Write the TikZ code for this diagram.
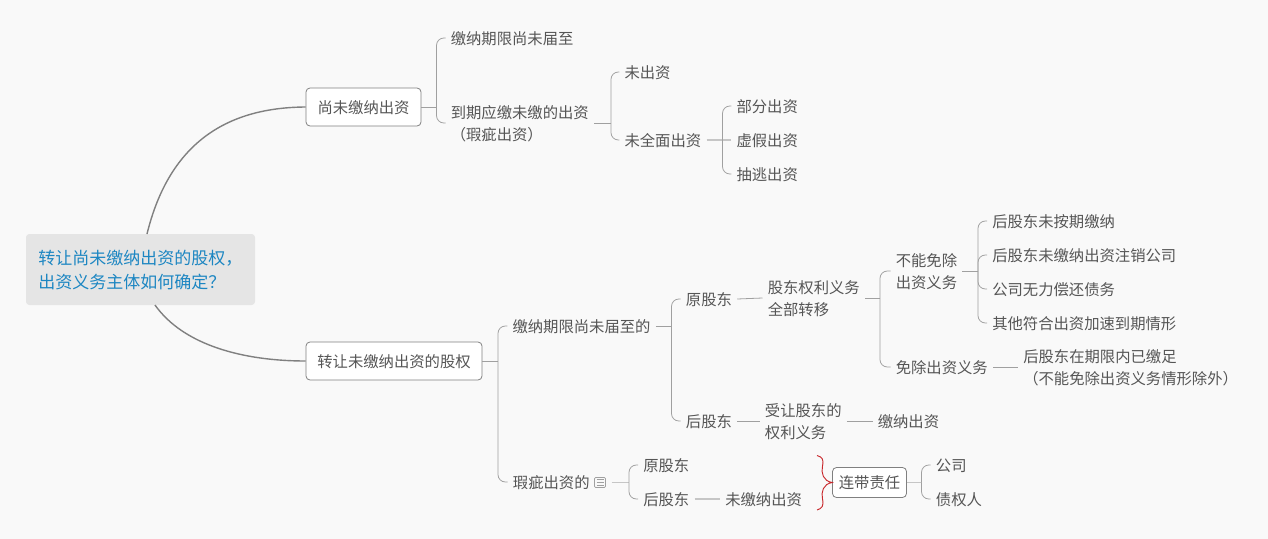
\documentclass[tikz,border=0pt]{standalone}
\usepackage{fontspec}
\setmainfont{Noto Sans CJK SC}
\definecolor{pagebg}{HTML}{F9F9F9}
\definecolor{txtc}{HTML}{555555}
\definecolor{rootc}{HTML}{1C86C2}
\definecolor{rootbg}{HTML}{E5E5E5}
\definecolor{edgec}{HTML}{808080}
\definecolor{linec}{HTML}{A0A0A0}
\definecolor{lightc}{HTML}{C6C6C6}
\definecolor{bracec}{HTML}{C8282C}
\newcommand\firstline{\rule{0pt}{10.1pt}}
\tikzset{
  x=0.75pt, y=-0.75pt,
  txt/.style={anchor=west, inner xsep=3.75pt, inner ysep=0pt, text=txtc, align=left,
    font=\fontsize{11.5pt}{16.5pt}\selectfont,
    execute at begin node={\firstline}},
  boxed/.style={anchor=center, draw=edgec, line width=0.6pt, fill=white, rounded corners=3pt,
    text=txtc, inner sep=0pt, font=\fontsize{11.5pt}{16.5pt}\selectfont,
    execute at begin node={\firstline}},
  rootnode/.style={anchor=center, fill=rootbg, rounded corners=2.5pt, text=rootc, align=left,
    inner sep=0pt, font=\fontsize{12.75pt}{18pt}\selectfont,
    execute at begin node={\rule{0pt}{11.2pt}}},
  maincurve/.style={draw=edgec, line width=1.05pt},
  conn/.style={draw=linec, line width=0.6pt},
  connlight/.style={draw=lightc, line width=0.9pt},
  bracecurve/.style={draw=bracec, line width=0.7pt},
  noteicon/.style={draw=linec, line width=0.5pt, fill=pagebg, rounded corners=0.8pt, inner sep=0pt,
    minimum width=8.25pt, minimum height=7.5pt, outer xsep=4.5pt}
}
% stub from parent to spine, branch from spine to child
\newcommand\stub[3][conn]{\draw[#1] (#2.east) -- (#2.east -| #3);}
\newcommand\twig[4][conn]{\draw[#1, rounded corners=5.5pt] (#2.east -| #3) |- (#4.west);}
\newcommand\link[3][conn]{\draw[#1] (#2.east) -- (#3.west);}
\begin{document}
\begin{tikzpicture}
\useasboundingbox[fill=pagebg] (0,0) rectangle (1268,539);

% root and first level
\node[rootnode, minimum width=171.75pt, minimum height=53.25pt, text width=153pt] (root) at (140.5,269.5)
  {转让尚未缴纳出资的股权，\\出资义务主体如何确定？};
\node[boxed, minimum width=86.25pt, minimum height=28.5pt] (n1) at (363.5,107) {尚未缴纳出资};
\node[boxed, minimum width=132pt, minimum height=28.5pt] (n2) at (394,361) {转让未缴纳出资的股权};
\draw[maincurve] (147,234) .. controls (170,140) and (230,107.5) .. (n1.west);
\draw[maincurve] (155,305) .. controls (184,346) and (245,361) .. (n2.west);

% upper branch
\node[txt] (a1) at (445.5,38) {缴纳期限尚未届至};
\node[txt] (a2) at (445.5,123) {\rule{0pt}{10.9pt}到期应缴未缴的出资\\（瑕疵出资）};
\node[txt] (b1) at (619.3,72) {未出资};
\node[txt] (b2) at (619.3,140) {未全面出资};
\node[txt] (c1) at (731.3,106) {部分出资};
\node[txt] (c2) at (731.3,140) {虚假出资};
\node[txt] (c3) at (731.3,174) {抽逃出资};
\coordinate (s1) at (436.5,0);
\coordinate (s2) at (611,0);
\coordinate (s3) at (722.5,0);
\stub{n1}{s1}
\twig{n1}{s1}{a1}
\twig{n1}{s1}{a2}
\stub{a2}{s2}
\twig{a2}{s2}{b1}
\twig{a2}{s2}{b2}
\stub[connlight]{b2}{s3}
\twig{b2}{s3}{c1}
\twig{b2}{s3}{c3}
\draw[connlight] (b2.east -| s3) -- (c2.west);

% lower branch
\node[txt] (d1) at (507.3,326) {缴纳期限尚未届至的};
\node[txt] (d2) at (507.7,482) {瑕疵出资的};
\node[noteicon] (note) at (600,482.5) {};
\draw[linec, line width=0.5pt] (596.5,479.5) -- (603.5,479.5) (596.5,482.5) -- (603.5,482.5) (596.5,485.5) -- (603.5,485.5);
\coordinate (s4) at (498,0);
\stub{n2}{s4}
\twig{n2}{s4}{d1}
\twig{n2}{s4}{d2}

\node[txt] (e1) at (680.7,299) {原股东};
\node[txt] (e2) at (680.7,421) {后股东};
\coordinate (s5) at (671.5,0);
\stub{d1}{s5}
\twig{d1}{s5}{e1}
\twig{d1}{s5}{e2}

\node[txt] (f1) at (762.5,298) {\firstline 股东权利义务\\全部转移};
\node[txt] (f2) at (759.7,421) {\firstline 受让股东的\\权利义务};
\node[txt] (f3) at (872.5,421) {缴纳出资};
\link{e1}{f1}
\link{e2}{f2}
\link{f2}{f3}

\node[txt] (g1) at (890.5,271) {\firstline 不能免除\\出资义务};
\node[txt] (g2) at (890.5,367) {免除出资义务};
\coordinate (s6) at (880,0);
\stub{f1}{s6}
\twig{f1}{s6}{g1}
\twig{f1}{s6}{g2}

\node[txt] (h1) at (987,221) {后股东未按期缴纳};
\node[txt] (h2) at (987,255) {后股东未缴纳出资注销公司};
\node[txt] (h3) at (987,289) {公司无力偿还债务};
\node[txt] (h4) at (987,323) {其他符合出资加速到期情形};
\coordinate (s7) at (978,0);
\stub{g1}{s7}
\twig{g1}{s7}{h1}
\twig{g1}{s7}{h2}
\twig{g1}{s7}{h3}
\twig{g1}{s7}{h4}

\node[txt] (h5) at (1018,367) {\firstline 后股东在期限内已缴足\\（不能免除出资义务情形除外）};
\link{g2}{h5}

% defective contribution branch
\node[txt] (i1) at (638,465) {原股东};
\node[txt] (i2) at (638,499) {后股东};
\node[txt] (j2) at (720,499) {未缴纳出资};
\coordinate (s8) at (629,0);
\stub[connlight]{note}{s8}
\twig{note}{s8}{i1}
\twig{note}{s8}{i2}
\link[connlight]{i2}{j2}

\node[boxed, minimum width=55.5pt, minimum height=22.5pt] (k) at (869.5,482.5) {连带责任};
\node[txt] (m1) at (930.7,465) {公司};
\node[txt] (m2) at (930.7,499) {债权人};
\coordinate (s9) at (921.5,0);
\stub[connlight]{k}{s9}
\twig{k}{s9}{m1}
\twig{k}{s9}{m2}

% summary brace
\coordinate (bt) at (817,455.5);
\coordinate (bb) at (817,510);
\draw[bracecurve] (bt) .. controls (822,457) and (824,459) .. (822.5,466)
  .. controls (821,473) and (823,481) .. (k.west)
  .. controls (823,484) and (821,492) .. (822.5,499)
  .. controls (824,506) and (822,508.5) .. (bb);
\end{tikzpicture}
\end{document}
